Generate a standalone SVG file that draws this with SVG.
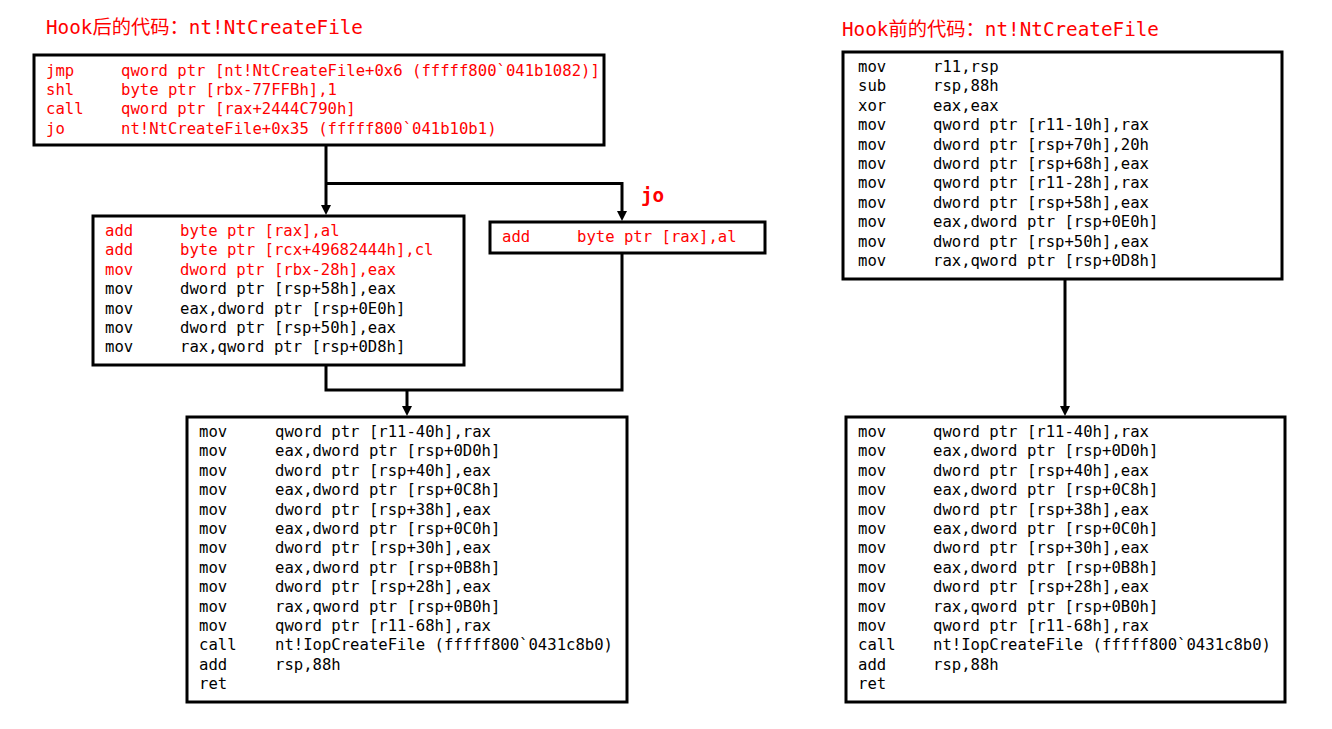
<svg xmlns="http://www.w3.org/2000/svg" width="1332" height="729" viewBox="0 0 1332 729">
<style>
.box{fill:#fff;stroke:#000;stroke-width:3}
.code{font-family:"DejaVu Sans Mono","Liberation Mono",monospace;font-size:15.6px;fill:#000}
.r{fill:#f00}
.title{font-family:"DejaVu Sans Mono","Noto Sans CJK SC",monospace;font-size:19.3px;fill:#f00}
.wire{fill:none;stroke:#000;stroke-width:3}
</style>
<defs>
<marker id="ah" markerUnits="userSpaceOnUse" markerWidth="10" markerHeight="10" refX="5" refY="5" orient="auto">
<path d="M0,0 L10,5 L0,10 z" fill="#000"/>
</marker>
</defs>
<rect width="1332" height="729" fill="#fff"/>
<text class="title" x="46" y="34">Hook后的代码：nt!NtCreateFile</text>
<text class="title" x="842" y="36">Hook前的代码：nt!NtCreateFile</text>
<g id="connectors">
<path class="wire" d="M326,145 V210" marker-end="url(#ah)"/>
<path class="wire" d="M326,183.5 H622 V216" marker-end="url(#ah)"/>
<path class="wire" d="M326,366 V390 H622 V253"/>
<path class="wire" d="M407,390 V411" marker-end="url(#ah)"/>
<path class="wire" d="M1065,279 V411" marker-end="url(#ah)"/>
<text class="title" x="641" y="202" font-weight="bold">jo</text>
</g>
<g id="n1">
<rect class="box" x="34" y="55" width="570" height="90"/>
<g class="code r">
<text x="46" y="75.5">jmp</text><text x="121" y="75.5">qword ptr [nt!NtCreateFile+0x6 (fffff800`041b1082)]</text>
<text x="46" y="94.9">shl</text><text x="121" y="94.9">byte ptr [rbx-77FFBh],1</text>
<text x="46" y="114.3">call</text><text x="121" y="114.3">qword ptr [rax+2444C790h]</text>
<text x="46" y="133.7">jo</text><text x="121" y="133.7">nt!NtCreateFile+0x35 (fffff800`041b10b1)</text>
</g>
</g>
<g id="n2">
<rect class="box" x="93" y="216" width="371" height="149"/>
<g class="code">
<text class="r" x="105" y="236">add</text><text class="r" x="180" y="236">byte ptr [rax],al</text>
<text class="r" x="105" y="255.4">add</text><text class="r" x="180" y="255.4">byte ptr [rcx+49682444h],cl</text>
<text class="r" x="105" y="274.8">mov</text><text class="r" x="180" y="274.8">dword ptr [rbx-28h],eax</text>
<text x="105" y="294.2">mov</text><text x="180" y="294.2">dword ptr [rsp+58h],eax</text>
<text x="105" y="313.6">mov</text><text x="180" y="313.6">eax,dword ptr [rsp+0E0h]</text>
<text x="105" y="333">mov</text><text x="180" y="333">dword ptr [rsp+50h],eax</text>
<text x="105" y="352.4">mov</text><text x="180" y="352.4">rax,qword ptr [rsp+0D8h]</text>
</g>
</g>
<g id="n3">
<rect class="box" x="490" y="222" width="275" height="31"/>
<g class="code r">
<text x="502" y="242">add</text><text x="577" y="242">byte ptr [rax],al</text>
</g>
</g>
<g id="n4">
<rect class="box" x="187" y="417" width="440" height="285"/>
<g class="code">
<text x="199" y="437">mov</text><text x="275" y="437">qword ptr [r11-40h],rax</text>
<text x="199" y="456.4">mov</text><text x="275" y="456.4">eax,dword ptr [rsp+0D0h]</text>
<text x="199" y="475.8">mov</text><text x="275" y="475.8">dword ptr [rsp+40h],eax</text>
<text x="199" y="495.2">mov</text><text x="275" y="495.2">eax,dword ptr [rsp+0C8h]</text>
<text x="199" y="514.6">mov</text><text x="275" y="514.6">dword ptr [rsp+38h],eax</text>
<text x="199" y="534">mov</text><text x="275" y="534">eax,dword ptr [rsp+0C0h]</text>
<text x="199" y="553.4">mov</text><text x="275" y="553.4">dword ptr [rsp+30h],eax</text>
<text x="199" y="572.8">mov</text><text x="275" y="572.8">eax,dword ptr [rsp+0B8h]</text>
<text x="199" y="592.2">mov</text><text x="275" y="592.2">dword ptr [rsp+28h],eax</text>
<text x="199" y="611.6">mov</text><text x="275" y="611.6">rax,qword ptr [rsp+0B0h]</text>
<text x="199" y="631">mov</text><text x="275" y="631">qword ptr [r11-68h],rax</text>
<text x="199" y="650.4">call</text><text x="275" y="650.4">nt!IopCreateFile (fffff800`0431c8b0)</text>
<text x="199" y="669.8">add</text><text x="275" y="669.8">rsp,88h</text>
<text x="199" y="689.2">ret</text>
</g>
</g>
<g id="n5">
<rect class="box" x="843" y="52" width="439" height="227"/>
<g class="code">
<text x="858" y="72">mov</text><text x="933" y="72">r11,rsp</text>
<text x="858" y="91.4">sub</text><text x="933" y="91.4">rsp,88h</text>
<text x="858" y="110.8">xor</text><text x="933" y="110.8">eax,eax</text>
<text x="858" y="130.2">mov</text><text x="933" y="130.2">qword ptr [r11-10h],rax</text>
<text x="858" y="149.6">mov</text><text x="933" y="149.6">dword ptr [rsp+70h],20h</text>
<text x="858" y="169">mov</text><text x="933" y="169">dword ptr [rsp+68h],eax</text>
<text x="858" y="188.4">mov</text><text x="933" y="188.4">qword ptr [r11-28h],rax</text>
<text x="858" y="207.8">mov</text><text x="933" y="207.8">dword ptr [rsp+58h],eax</text>
<text x="858" y="227.2">mov</text><text x="933" y="227.2">eax,dword ptr [rsp+0E0h]</text>
<text x="858" y="246.6">mov</text><text x="933" y="246.6">dword ptr [rsp+50h],eax</text>
<text x="858" y="266">mov</text><text x="933" y="266">rax,qword ptr [rsp+0D8h]</text>
</g>
</g>
<g id="n6">
<rect class="box" x="846" y="417" width="439" height="285"/>
<g class="code">
<text x="858" y="437">mov</text><text x="933" y="437">qword ptr [r11-40h],rax</text>
<text x="858" y="456.4">mov</text><text x="933" y="456.4">eax,dword ptr [rsp+0D0h]</text>
<text x="858" y="475.8">mov</text><text x="933" y="475.8">dword ptr [rsp+40h],eax</text>
<text x="858" y="495.2">mov</text><text x="933" y="495.2">eax,dword ptr [rsp+0C8h]</text>
<text x="858" y="514.6">mov</text><text x="933" y="514.6">dword ptr [rsp+38h],eax</text>
<text x="858" y="534">mov</text><text x="933" y="534">eax,dword ptr [rsp+0C0h]</text>
<text x="858" y="553.4">mov</text><text x="933" y="553.4">dword ptr [rsp+30h],eax</text>
<text x="858" y="572.8">mov</text><text x="933" y="572.8">eax,dword ptr [rsp+0B8h]</text>
<text x="858" y="592.2">mov</text><text x="933" y="592.2">dword ptr [rsp+28h],eax</text>
<text x="858" y="611.6">mov</text><text x="933" y="611.6">rax,qword ptr [rsp+0B0h]</text>
<text x="858" y="631">mov</text><text x="933" y="631">qword ptr [r11-68h],rax</text>
<text x="858" y="650.4">call</text><text x="933" y="650.4">nt!IopCreateFile (fffff800`0431c8b0)</text>
<text x="858" y="669.8">add</text><text x="933" y="669.8">rsp,88h</text>
<text x="858" y="689.2">ret</text>
</g>
</g>
</svg>
